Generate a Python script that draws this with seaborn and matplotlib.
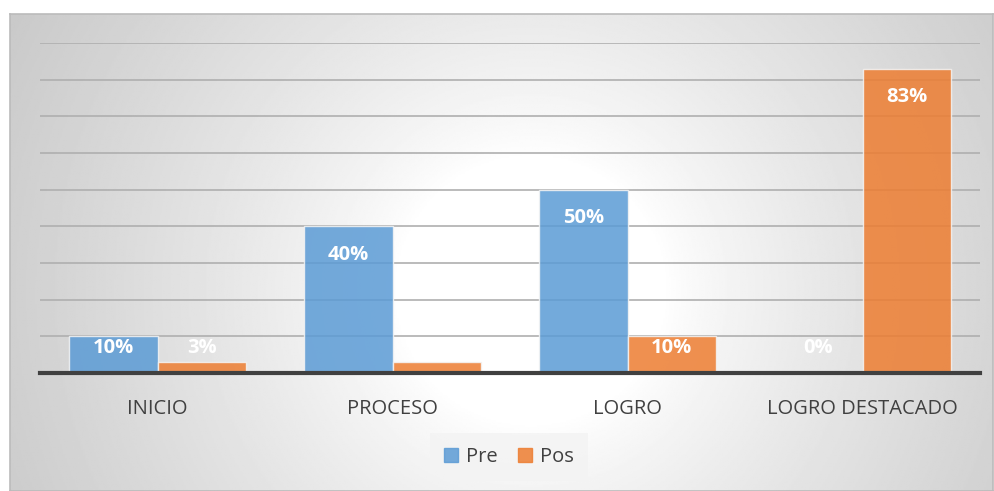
import numpy as np
import pandas as pd
import matplotlib.pyplot as plt
import seaborn as sns

# Data
categories = ['INICIO', 'PROCESO', 'LOGRO', 'LOGRO DESTACADO']
pre = [10, 40, 50, 0]
pos = [3, 3, 10, 83]
series = ['Pre', 'Pos']

df = pd.DataFrame({
    'categoria': categories * 2,
    'valor': pre + pos,
    'serie': ['Pre'] * 4 + ['Pos'] * 4,
})

sns.set_theme(style='white')
plt.rcParams['font.family'] = ['Open Sans', 'DejaVu Sans']

W, H = 994, 491
fig = plt.figure(figsize=(W / 100, H / 100), dpi=100)
fig.patch.set_facecolor('white')

# chart frame with radial gradient background
fx0, fy0, fx1, fy1 = 10, 14, 993, 491
bg = fig.add_axes([fx0 / W, 1 - fy1 / H, (fx1 - fx0) / W, (fy1 - fy0) / H])
yy, xx = np.mgrid[0:1:300j, 0:1:600j]
r = np.sqrt(((xx - 0.53) * 2.06) ** 2 + (yy - 0.58) ** 2)
val = 1 - 0.21 * np.clip((r - 0.28) / 0.95, 0, 1) ** 0.8
bg.imshow(val, cmap='gray', vmin=0, vmax=1, aspect='auto', extent=[0, 1, 0, 1])
bg.set_xticks([])
bg.set_yticks([])
for s in bg.spines.values():
    s.set_color('#BBBBBB')
    s.set_linewidth(1.2)

# main plot area
ax = fig.add_axes([40 / W, (H - 373) / H, 940 / W, 330 / H])
ax.patch.set_alpha(0)

sns.barplot(data=df, x='categoria', y='valor', hue='serie', order=categories,
            hue_order=series, palette=['#5B9BD5', '#ED7D31'], saturation=1,
            width=0.75, alpha=0.85, edgecolor='#F4F4F4', linewidth=1, ax=ax,
            legend=False, zorder=3)

ax.set_ylim(0, 90)
ax.set_xlim(-0.5, 3.5)
ax.set_yticks(range(10, 91, 10))
ax.yaxis.grid(True, color='#AFAFAF', linewidth=1.2)
ax.set_axisbelow(True)
ax.tick_params(axis='y', left=False, labelleft=False)
ax.tick_params(axis='x', bottom=False, labelsize=14.5, colors='#404040', pad=13)
ax.set_xlabel('')
ax.set_ylabel('')
for side in ['top', 'right', 'left']:
    ax.spines[side].set_visible(False)
ax.spines['bottom'].set_color('#404040')
ax.spines['bottom'].set_linewidth(3)
ax.spines['bottom'].set_zorder(5)

# data labels (inside end, kept low for short bars)
for container, vals in zip(ax.containers, [pre, pos]):
    for bar, v in zip(container, vals):
        x = bar.get_x() + bar.get_width() / 2
        y = max(v - 7.7, 6.8)
        ax.text(x, y, f'{v}%', ha='center', va='center', color='white',
                fontsize=14.5, fontweight='bold', zorder=6)

# legend
handles = [plt.Rectangle((0, 0), 1, 1, color=c, alpha=0.85) for c in ['#5B9BD5', '#ED7D31']]
leg = fig.legend(handles, series, loc='center', bbox_to_anchor=(509 / W, 1 - 457 / H),
                 ncol=2, frameon=True, fontsize=14.5, handlelength=0.7, handleheight=0.7,
                 handletextpad=0.4, columnspacing=1.0, borderpad=0.4)
leg.get_frame().set_facecolor('#F3F3F3')
leg.get_frame().set_edgecolor('none')
leg.get_frame().set_boxstyle('square')
for t in leg.get_texts():
    t.set_color('#404040')

fig.savefig('out.png', dpi=100)
